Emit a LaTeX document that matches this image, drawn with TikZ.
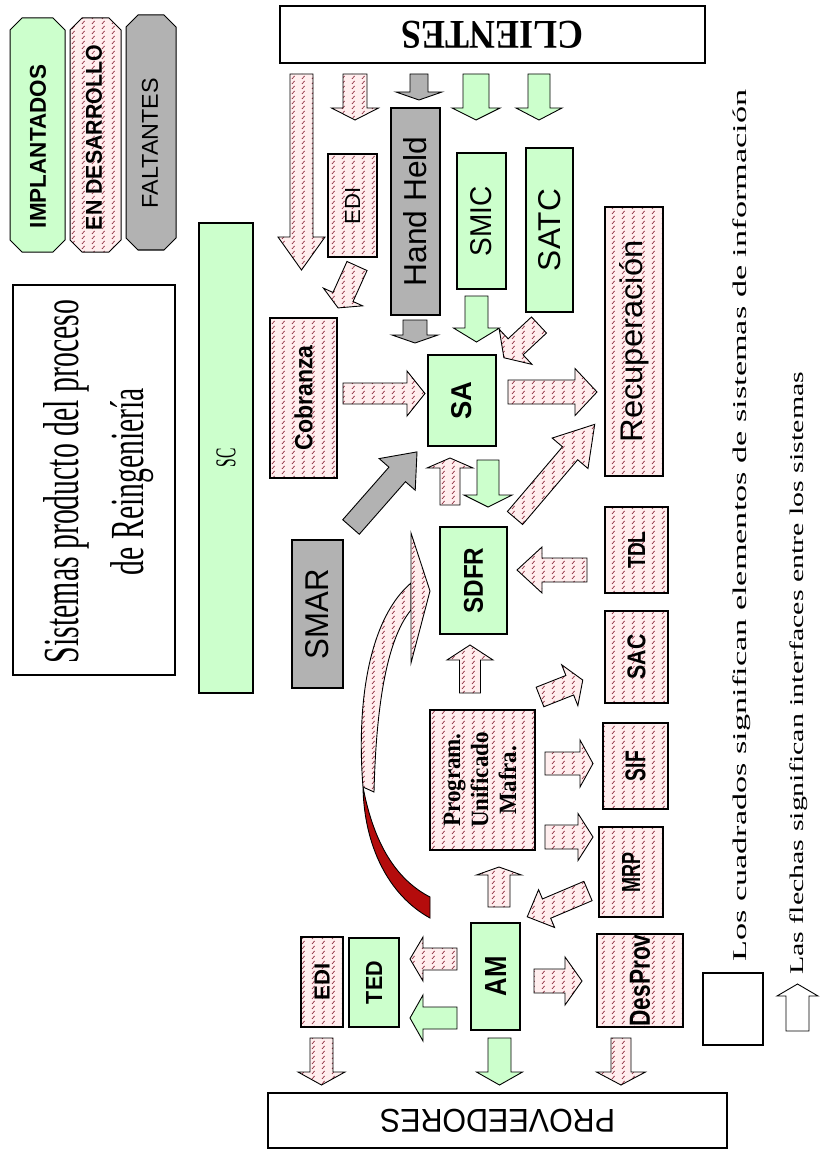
\documentclass[tikz,border=0pt]{standalone}
\usepackage{graphicx}
\usepackage{fontspec}
\setmainfont{Liberation Serif}
\setsansfont{Liberation Sans}
\usetikzlibrary{patterns}
\definecolor{grn}{RGB}{204,255,204}
\definecolor{gry}{RGB}{178,178,178}
\definecolor{hbg}{RGB}{255,238,238}
\definecolor{hcol}{RGB}{145,45,65}
\definecolor{dred}{RGB}{180,12,12}
\pgfdeclarepatternformonly{dashhatch}{\pgfqpoint{-1pt}{-1pt}}{\pgfqpoint{11pt}{6pt}}{\pgfqpoint{10pt}{5pt}}{%
  \pgfsetlinewidth{0.7pt}%
  \pgfpathmoveto{\pgfqpoint{2pt}{1pt}}%
  \pgfpathlineto{\pgfqpoint{4.6pt}{4.1pt}}%
  \pgfusepath{stroke}%
}
\tikzset{
  bx/.style={draw=black, line width=1.1pt, inner sep=0pt, anchor=center},
  greenbox/.style={bx, fill=grn},
  graybox/.style={bx, fill=gry},
  whitebox/.style={bx, fill=white},
  hatchfill/.style={preaction={fill=hbg}, pattern=dashhatch, pattern color=hcol},
  hatchbox/.style={bx, hatchfill},
  arrline/.style={draw=black, line width=0.9pt, line join=miter},
  harr/.style={arrline, hatchfill},
  garr/.style={arrline, fill=grn},
  grarr/.style={arrline, fill=gry},
  warr/.style={arrline, fill=white},
  rlab/.style={rotate=90, inner sep=0pt}
}
% box node: style, name, x1, y1, x2, y2, content
\newcommand{\boxat}[7]{\node[#1, minimum width={#5pt-#3pt}, minimum height={#6pt-#4pt}] (#2) at ({(#3+#5)/2},{(#4+#6)/2}) {#7};}
% rotated, resized text: length, height, text
\newcommand{\rt}[3]{\rotatebox{90}{\resizebox{#1pt}{#2pt}{#3}}}
% block arrow: style, tail, angle, length, shaft width, head width, head length
\newcommand{\blk}[7]{\begin{scope}[shift={#2},rotate=#3]\path[#1] (0,{-(#5)/2}) -- ({#4-#7},{-(#5)/2}) -- ({#4-#7},{-(#6)/2}) -- (#4,0) -- ({#4-#7},{(#6)/2}) -- ({#4-#7},{(#5)/2}) -- (0,{(#5)/2}) -- cycle;\end{scope}}
% chamfered legend shape: style, x1, y1, x2, y2, chamfer
\newcommand{\octo}[6]{\path[#1] ({#2+#6},#3) -- ({#4-#6},#3) -- (#4,{#3+#6}) -- (#4,{#5-#6}) -- ({#4-#6},#5) -- ({#2+#6},#5) -- (#2,{#5-#6}) -- (#2,{#3+#6}) -- cycle;}
\begin{document}
\begin{tikzpicture}[x=1pt,y=-1pt]
\useasboundingbox (0,0) rectangle (819,1150);
\fill[white] (0,0) rectangle (819,1150);

% legend
\octo{draw, line width=1pt, fill=grn}{10}{18}{65}{252}{12}
\octo{draw, line width=1pt, hatchfill}{70}{18}{121}{252}{12}
\octo{draw, line width=1pt, fill=gry}{126}{15}{176}{250}{12}
\node[rlab] (legimp) at (38,146.5) {\resizebox{163pt}{16pt}{\sffamily\bfseries IMPLANTADOS}};
\node[rlab] (legdes) at (94,137.5) {\resizebox{185pt}{16pt}{\sffamily\bfseries EN DESARROLLO}};
\node[rlab] (legfal) at (150,143) {\resizebox{130pt}{16pt}{\sffamily FALTANTES}};

% title
\boxat{whitebox}{titlebox}{13}{285}{175}{675}{}
\node[rlab, anchor=base] (title1) at (78,481.5) {\resizebox{363pt}{35pt}{Sistemas producto del proceso}};
\node[rlab, anchor=base] (title2) at (143,481.5) {\resizebox{187pt}{33pt}{de Reingeniería}};

% boxes
\boxat{whitebox}{clientes}{280}{6}{705}{63}{\rotatebox{180}{\resizebox{182pt}{27pt}{\bfseries CLIENTES}}}
\boxat{whitebox}{prov}{268}{1093}{727}{1148}{\rotatebox{180}{\resizebox{235pt}{23pt}{\sffamily PROVEEDORES}}}
\boxat{greenbox}{sc}{199}{223}{253}{693}{\rt{19}{19}{SC}}
\boxat{hatchbox}{edia}{328}{154}{377}{257}{\rt{37}{15}{\sffamily EDI}}
\boxat{graybox}{hh}{391}{108}{440}{315}{\rt{150}{23}{\sffamily Hand Held}}
\boxat{greenbox}{smic}{457}{153}{506}{289}{\rt{70}{21}{\sffamily SMIC}}
\boxat{greenbox}{satc}{526}{148}{573}{312}{\rt{82}{22}{\sffamily SATC}}
\boxat{hatchbox}{recup}{605}{207}{663}{476}{\rt{202}{23}{\sffamily Recuperación}}
\boxat{hatchbox}{cobr}{270}{318}{337}{478}{\rt{105}{18}{\sffamily\bfseries Cobranza}}
\boxat{greenbox}{sa}{428}{355}{496}{446}{\rt{38}{20}{\sffamily\bfseries SA}}
\boxat{graybox}{smar}{292}{540}{343}{688}{\rt{90}{23}{\sffamily SMAR}}
\boxat{greenbox}{sdfr}{440}{527}{507}{634}{\rt{66}{19}{\sffamily\bfseries SDFR}}
\boxat{hatchbox}{tdl}{605}{507}{668}{593}{\rt{37}{17}{\sffamily\bfseries TDL}}
\boxat{hatchbox}{sac}{605}{611}{668}{703}{\rt{45}{18}{\sffamily\bfseries SAC}}
\boxat{hatchbox}{sif}{603}{723}{668}{809}{\rt{30}{20}{\sffamily\bfseries SIF}}
\boxat{hatchbox}{prog}{430}{710}{535}{850}{\rotatebox{90}{\scalebox{1}[1.08]{\fontsize{23pt}{26pt}\selectfont\bfseries\begin{tabular}{@{}c@{}}Program.\\Unificado\\Mafra.\end{tabular}}}}
\boxat{hatchbox}{mrp}{599}{827}{663}{917}{\rt{40}{18}{\sffamily\bfseries MRP}}
\boxat{greenbox}{am}{471}{923}{520}{1030}{\rt{40}{21}{\sffamily\bfseries AM}}
\boxat{hatchbox}{desprov}{597}{934}{683}{1027}{\rt{92}{20}{\sffamily\bfseries DesProv}}
\boxat{greenbox}{ted}{349}{938}{399}{1027}{\rt{43}{16}{\sffamily\bfseries TED}}
\boxat{hatchbox}{edib}{301}{937}{343}{1027}{\rt{37}{15}{\sffamily\bfseries EDI}}
\boxat{whitebox}{legsq}{703}{973}{763}{1045}{}

% block arrows
\blk{harr}{(301.5,74)}{-90}{196}{23}{47}{33}
\blk{harr}{(355,74)}{-90}{46}{24}{47}{12}
\blk{grarr}{(419,74)}{-90}{26}{18}{46}{8}
\blk{garr}{(476,74)}{-90}{46}{26}{48}{12}
\blk{garr}{(539,74)}{-90}{46}{22}{46}{12}
\blk{grarr}{(415,320)}{-90}{23}{24}{46}{8}
\blk{garr}{(476.5,296)}{-90}{46}{23}{46}{14}
\blk{garr}{(488,460)}{-90}{47}{22}{48}{12}
\blk{harr}{(321.5,1038)}{-90}{47}{23}{47}{13}
\blk{garr}{(499.5,1038)}{-90}{47}{23}{46}{13}
\blk{harr}{(621,1038)}{-90}{47}{20}{49}{13}
\blk{harr}{(450,505)}{90}{47}{20}{46}{10}
\blk{harr}{(470,693)}{90}{48}{21}{46}{15}
\blk{harr}{(499,907)}{90}{40}{22}{45}{8}
\blk{warr}{(797.5,1031)}{90}{47}{23}{41}{12}
\blk{harr}{(343,393.5)}{0}{82}{21}{45}{18}
\blk{harr}{(508,392)}{0}{89}{24}{47}{22}
\blk{harr}{(545,763.5)}{0}{48}{23}{47}{13}
\blk{harr}{(545,837)}{0}{48}{24}{47}{15}
\blk{harr}{(534,981)}{0}{48}{24}{48}{17}
\blk{harr}{(587,570)}{180}{70}{24}{46}{25}
\blk{harr}{(457,959)}{180}{47}{22}{44}{13}
\blk{garr}{(457,1018)}{180}{47}{22}{46}{13}
\blk{harr}{(357,266)}{245.7}{46}{22}{43}{12}
\blk{harr}{(539,325)}{223}{48}{22}{48}{16}
\blk{grarr}{(351,527)}{48.7}{100}{22}{48}{30}
\blk{harr}{(515,518)}{49.6}{123}{20}{47}{38}
\blk{harr}{(540,697)}{21.6}{46}{21}{44}{14}
\blk{harr}{(588,891)}{203}{66}{21}{41}{21}

% curved arrow (AM -> SDFR)
\path[arrline, fill=dred] (363,787) .. controls (364,845) and (388,895) .. (430,918) -- (430,897) .. controls (397,880) and (374,845) .. (363,787) -- cycle;
\path[harr] (363,787) .. controls (356,700) and (370,618) .. (411,583) -- (411,610) .. controls (386,640) and (376,710) .. (374,792) -- cycle;
\path[harr] (411,533) -- (430,591) -- (411,663) -- cycle;

% footer notes
\node[rlab, anchor=base west] (foot1) at (746.7,962) {\resizebox{872pt}{13.7pt}{Los cuadrados significan elementos de sistemas de información}};
\node[rlab, anchor=base west] (foot2) at (803.7,975) {\resizebox{603pt}{13.7pt}{Las flechas significan interfaces entre los sistemas}};
\end{tikzpicture}
\end{document}
